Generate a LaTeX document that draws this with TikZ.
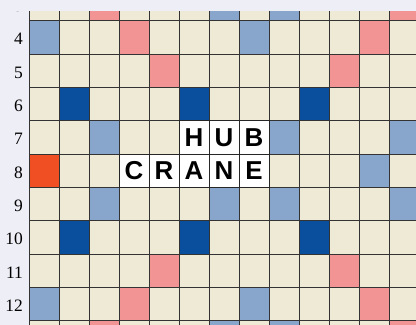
\documentclass[tikz,border=0pt]{standalone}
\usepackage{fontspec}
\setmainfont{Liberation Serif}
\newfontfamily\tilefont{Liberation Sans}
\usetikzlibrary{positioning}
\definecolor{boardbg}{HTML}{EEEEF6}
\definecolor{plain}{HTML}{EFEAD6}
\definecolor{dls}{HTML}{88A6CC}
\definecolor{tls}{HTML}{0A4F9E}
\definecolor{dws}{HTML}{F29494}
\definecolor{tws}{HTML}{F04E23}

\begin{document}
\begin{tikzpicture}[x=30bp,y=-33.333bp,
  cell/.style={draw=black!80, line width=0.9bp},
  tile/.style={draw=black!85, fill=white, line width=0.9bp, minimum width=30bp, minimum height=33.333bp, inner sep=0pt, font=\tilefont\bfseries\fontsize{26}{26}\selectfont},
  rowlabel/.style={anchor=east, inner sep=0pt, font=\fontsize{17.5}{17.5}\selectfont}]
\useasboundingbox (0.033,3.378) rectangle (13.9,13.128);
\clip (0.033,3.378) rectangle (13.9,13.128);
\fill[boardbg] (0.033,3.378) rectangle (13.9,13.128);
\foreach \r in {3,...,13}
  \foreach \c in {1,...,14}
    \draw[cell, fill=plain] (\c,\r) rectangle ++(1,1);
\foreach \c/\r in {3/3,13/3,4/4,12/4,5/5,11/5,5/11,11/11,4/12,12/12,3/13,13/13}
  \draw[cell, fill=dws] (\c,\r) rectangle ++(1,1);
\foreach \c/\r in {7/3,9/3,1/4,8/4,3/7,7/7,9/7,13/7,4/8,12/8,3/9,7/9,9/9,13/9,1/12,8/12,7/13,9/13}
  \draw[cell, fill=dls] (\c,\r) rectangle ++(1,1);
\foreach \c/\r in {2/6,6/6,10/6,14/6,2/10,6/10,10/10,14/10}
  \draw[cell, fill=tls] (\c,\r) rectangle ++(1,1);
\draw[cell, fill=tws] (1,8) rectangle ++(1,1);
\foreach \l [count=\i from 6] in {H,U,B}
  \node[tile] (hub\l) at (\i+0.5,7.5) {\l};
\foreach \l [count=\i from 4] in {C,R,A,N,E}
  \node[tile] (crane\l) at (\i+0.5,8.5) {\l};
\foreach \r in {3,...,12}
  \node[rowlabel] (row\r) at (0.8,\r+0.55) {\r};
\fill[boardbg] (0.033,3.378) rectangle (13.9,3.708);
\end{tikzpicture}
\end{document}
